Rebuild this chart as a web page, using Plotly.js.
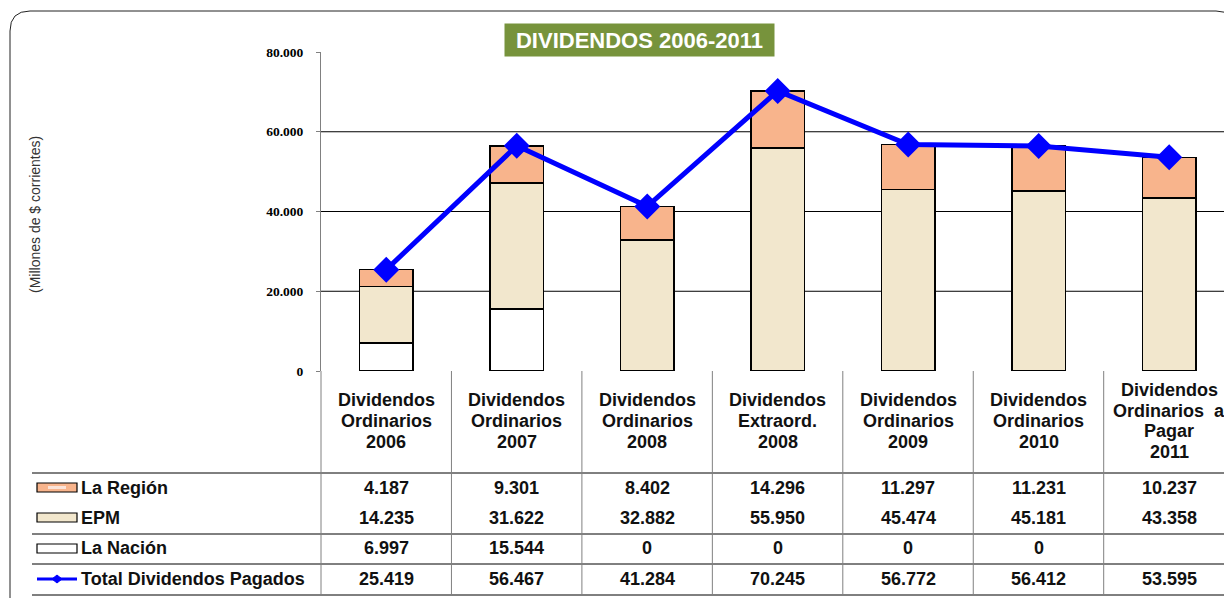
<!DOCTYPE html>
<html>
<head>
<meta charset="utf-8">
<script src="https://cdn.plot.ly/plotly-3.0.1.min.js"></script>
<style>
html,body{margin:0;padding:0;background:#fff;overflow:hidden;}
#chart{width:1224px;height:598px;}
</style>
</head>
<body>
<div id="chart"></div>
<script>
// ---- data ----
var categories = [
  "Dividendos<br>Ordinarios<br>2006",
  "Dividendos<br>Ordinarios<br>2007",
  "Dividendos<br>Ordinarios<br>2008",
  "Dividendos<br>Extraord.<br>2008",
  "Dividendos<br>Ordinarios<br>2009",
  "Dividendos<br>Ordinarios<br>2010",
  "Dividendos<br>Ordinarios  a<br>Pagar<br>2011"
];
var laRegion = [4187, 9301, 8402, 14296, 11297, 11231, 10237];
var epm      = [14235, 31622, 32882, 55950, 45474, 45181, 43358];
var laNacion = [6997, 15544, 0, 0, 0, 0, null];
var totalPagados = [25419, 56467, 41284, 70245, 56772, 56412, 53595];
var seriesNames = ["La Región", "EPM", "La Nación", "Total Dividendos Pagados"];
var yTickVals = [0, 20000, 40000, 60000, 80000];
var chartTitle = "DIVIDENDOS 2006-2011";
var yTitle = "(Millones de $ corrientes)";

// ---- geometry helpers (pixel -> paper) ----
var W = 1224, H = 598, ML = 321, MR = 0, MT = 52, MB = 227;
var PW = W - ML - MR, PH = H - MT - MB;
function px(x){ return (x - ML) / PW; }
function py(y){ return (H - MB - y) / PH; }
function fmt(v){
  if (v === null || v === undefined) return "";
  return String(v).replace(/\B(?=(\d{3})+(?!\d))/g, ".");
}

var colNacion = "#FFFFFF", colEPM = "#F2E7CD", colRegion = "#F8B48C", colLine = "#0000FF";

var traces = [
  {type:"bar", x:categories, y:laNacion, name:seriesNames[2], width:0.41,
   marker:{color:colNacion, line:{color:"#000", width:1.5}}, hoverinfo:"y"},
  {type:"bar", x:categories, y:epm, name:seriesNames[1], width:0.41,
   marker:{color:colEPM, line:{color:"#000", width:1.5}}, hoverinfo:"y"},
  {type:"bar", x:categories, y:laRegion, name:seriesNames[0], width:0.41,
   marker:{color:colRegion, line:{color:"#000", width:1.5}}, hoverinfo:"y"},
  {type:"scatter", mode:"lines+markers", x:categories, y:totalPagados, name:seriesNames[3],
   line:{color:colLine, width:5}, marker:{symbol:"diamond", size:20, color:colLine},
   cliponaxis:false, hoverinfo:"y"}
];

var shapes = [];
var annotations = [];

// gridlines
[20000, 40000, 60000].forEach(function(v){
  shapes.push({type:"line", xref:"paper", yref:"y", x0:0, x1:1.02, y0:v, y1:v,
    line:{color:"#000", width:1}, layer:"below"});
});

// outer rounded border
var bx0 = px(10), bx1 = px(1236), by0 = py(11), by1 = py(612);
var rx = 20 / PW, ry = 20 / PH;
shapes.push({type:"path", xref:"paper", yref:"paper",
  path: "M " + bx0 + "," + by1 + " L " + bx0 + "," + (by0 - ry) +
        " Q " + bx0 + "," + by0 + " " + (bx0 + rx) + "," + by0 +
        " L " + (bx1 - rx) + "," + by0 +
        " Q " + bx1 + "," + by0 + " " + bx1 + "," + (by0 - ry) +
        " L " + bx1 + "," + by1,
  line:{color:"#222", width:1}});

// table horizontal lines
[473, 534, 564, 595].forEach(function(y){
  shapes.push({type:"line", xref:"paper", yref:"paper", x0:px(32), x1:px(1240),
    y0:py(y), y1:py(y), line:{color:"#000", width:1}});
});
// table vertical lines (column boundaries)
for (var i = 0; i <= categories.length; i++){
  var xb = px(ML + i * 130.45);
  shapes.push({type:"line", xref:"paper", yref:"paper", x0:xb, x1:xb,
    y0:py(371), y1:py(595), line:{color:"#808080", width:1}});
}

// legend swatches in table
var rowY = [488, 518, 548, 579];
// La Región swatch
shapes.push({type:"rect", xref:"paper", yref:"paper", x0:px(37), x1:px(77), y0:py(492), y1:py(483),
  fillcolor:colRegion, line:{color:"#000", width:1.2}});
shapes.push({type:"rect", xref:"paper", yref:"paper", x0:px(48), x1:px(66), y0:py(489), y1:py(486),
  fillcolor:"#FBE3D8", line:{width:0}});
// EPM swatch
shapes.push({type:"rect", xref:"paper", yref:"paper", x0:px(37), x1:px(77), y0:py(522), y1:py(513),
  fillcolor:colEPM, line:{color:"#000", width:1.2}});
// La Nación swatch
shapes.push({type:"rect", xref:"paper", yref:"paper", x0:px(37), x1:px(77), y0:py(553), y1:py(544),
  fillcolor:colNacion, line:{color:"#000", width:1.2}});
// Total line swatch
shapes.push({type:"line", xref:"paper", yref:"paper", x0:px(37), x1:px(77), y0:py(579), y1:py(579),
  line:{color:colLine, width:3}});
shapes.push({type:"path", xref:"paper", yref:"paper",
  path:"M " + px(52) + "," + py(579) + " L " + px(57) + "," + py(575) + " L " + px(62) + "," + py(579) +
       " L " + px(57) + "," + py(583) + " Z",
  fillcolor:colLine, line:{color:colLine, width:1}});

var tableFont = {family:"Arial, Liberation Sans, sans-serif", size:18, color:"#111", weight:"bold"};

// row labels
seriesNames.forEach(function(n, r){
  annotations.push({xref:"paper", yref:"paper", x:px(79), y:py(rowY[r]), text:n,
    showarrow:false, xanchor:"left", yanchor:"middle", font:tableFont});
});

// values
var rows = [laRegion, epm, laNacion, totalPagados];
rows.forEach(function(arr, r){
  arr.forEach(function(v, c){
    var t = fmt(v);
    if (t === "") return;
    annotations.push({xref:"x", yref:"paper", x:c, y:py(rowY[r]), text:t,
      showarrow:false, xanchor:"center", yanchor:"middle", font:tableFont});
  });
});

// category headers (one annotation per line)
categories.forEach(function(cat, c){
  var lines = cat.split("<br>");
  var step = 20.8;
  var start = 421 - (lines.length - 1) * step / 2;
  lines.forEach(function(l, k){
    annotations.push({xref:"x", yref:"paper", x:c, y:py(start + k * step), text:l,
      showarrow:false, xanchor:"center", yanchor:"middle", font:tableFont});
  });
});

// title
annotations.push({xref:"paper", yref:"paper", x:px(639.5), y:py(40), text:"<b>" + chartTitle + "</b>",
  showarrow:false, xanchor:"center", yanchor:"middle", bgcolor:"#77933C", width:269, height:32,
  borderpad:0, font:{family:"Arial, Liberation Sans, sans-serif", size:22, color:"#fff"}});

// y title
annotations.push({xref:"paper", yref:"paper", x:px(35), y:py(215), text:yTitle, textangle:-90,
  showarrow:false, xanchor:"center", yanchor:"middle",
  font:{family:"Arial, Liberation Sans, sans-serif", size:14, color:"#333"}});

var layout = {
  width:W, height:H,
  margin:{l:ML, r:MR, t:MT, b:MB, pad:0},
  paper_bgcolor:"#fff", plot_bgcolor:"rgba(0,0,0,0)",
  barmode:"stack", bargap:0.59,
  showlegend:false,
  separators:",.",
  xaxis:{type:"category", range:[-0.5, 6.42], showticklabels:false, ticks:"",
    showgrid:false, zeroline:false, showline:false, fixedrange:true},
  yaxis:{range:[0, 80000], tickvals:yTickVals, tickformat:",.0f",
    showgrid:false, zeroline:false, showline:true, linecolor:"#808080", linewidth:1,
    ticks:"outside", ticklen:4, tickcolor:"#808080", ticklabelstandoff:10,
    tickfont:{family:"Liberation Serif, Times New Roman, serif", size:13.5, color:"#000", weight:"bold"},
    fixedrange:true},
  shapes:shapes,
  annotations:annotations
};

Plotly.newPlot("chart", traces, layout, {staticPlot:true, displayModeBar:false});
</script>
</body>
</html>
